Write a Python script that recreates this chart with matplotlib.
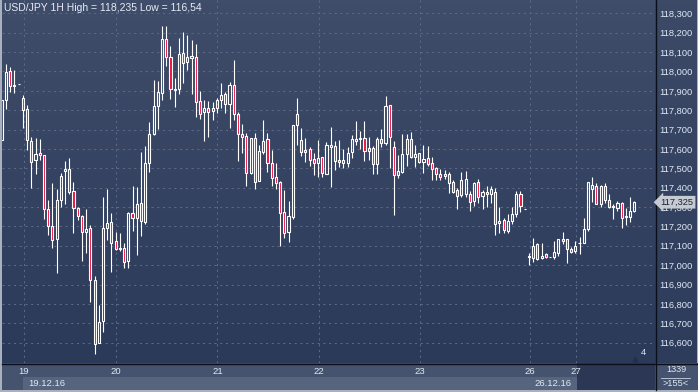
import numpy as np
import matplotlib
matplotlib.use("Agg")
import matplotlib.pyplot as plt
from matplotlib.patches import Rectangle

plt.rcParams['font.family'] = ['Liberation Sans', 'DejaVu Sans']

# ---------------- data (USD/JPY hourly candles) ----------------
opens = [117.646,
 117.852, 118.004, 117.923, 117.933, 117.861, 117.804, 117.642, 117.543, 117.577, 117.567,
 117.288, 117.202, 117.133, 117.336, 117.487, 117.494, 117.381, 117.293, 117.253, 117.172,
 117.190, 116.921, 116.596, 116.713, 117.190, 117.221, 117.124, 117.085, 117.090, 117.021,
 117.267, 117.246, 117.320, 117.224, 117.529, 117.677, 117.823, 117.890, 118.166, 118.074,
 117.902, 117.907, 118.093, 118.050, 118.071, 118.074, 117.847, 117.789, 117.814, 117.797,
 117.814, 117.852, 117.883, 117.832, 117.930, 117.778, 117.675, 117.668, 117.477, 117.654,
 117.436, 117.586, 117.651, 117.530, 117.453, 117.427, 117.272, 117.169, 117.250, 117.722,
 117.646, 117.594, 117.598, 117.546, 117.529, 117.556, 117.472, 117.611, 117.613, 117.543,
 117.541, 117.529, 117.582, 117.642, 117.649, 117.656, 117.589, 117.606, 117.524, 117.651,
 117.629, 117.825, 117.608, 117.463, 117.482, 117.573, 117.651, 117.560, 117.577, 117.534,
 117.555, 117.525, 117.500, 117.469, 117.458, 117.470, 117.431, 117.388, 117.362, 117.370,
 117.370, 117.333, 117.427, 117.358, 117.376, 117.365, 117.376, 117.219, 117.233, 117.176,
 117.229, 117.262, 117.370, 117.289, 117.040, 117.038, 117.107, 117.035, 117.057, 117.040,
 117.043, 117.064, 117.133, 117.133, 117.086, 117.074, 117.112, 117.112, 117.185, 117.391,
 117.410, 117.315, 117.408, 117.339, 117.298, 117.296, 117.319, 117.250, 117.250, 117.281]
highs = [117.852,
 118.038, 118.021, 118.007, 117.933, 117.878, 117.827, 117.660, 117.654, 117.651, 117.567,
 117.336, 117.422, 117.393, 117.474, 117.539, 117.551, 117.427, 117.302, 117.259, 117.289,
 117.207, 116.944, 116.794, 117.353, 117.391, 117.271, 117.172, 117.164, 117.112, 117.272,
 117.410, 117.405, 117.586, 117.616, 117.740, 117.956, 117.950, 118.235, 118.235, 118.131,
 117.964, 118.171, 118.202, 118.188, 118.162, 118.141, 117.899, 117.852, 117.847, 117.844,
 117.861, 117.938, 117.895, 117.947, 118.059, 117.792, 117.728, 117.680, 117.654, 117.680,
 117.620, 117.749, 117.680, 117.594, 117.525, 117.434, 117.388, 117.331, 117.723, 117.861,
 117.706, 117.658, 117.611, 117.577, 117.646, 117.560, 117.634, 117.711, 117.642, 117.646,
 117.598, 117.608, 117.670, 117.744, 117.692, 117.744, 117.660, 117.615, 117.660, 117.703,
 117.873, 117.825, 117.642, 117.568, 117.675, 117.675, 117.689, 117.620, 117.580, 117.620,
 117.615, 117.560, 117.508, 117.494, 117.491, 117.482, 117.439, 117.401, 117.482, 117.487,
 117.384, 117.431, 117.444, 117.388, 117.408, 117.408, 117.401, 117.298, 117.246, 117.262,
 117.298, 117.384, 117.384, 117.289, 117.061, 117.141, 117.112, 117.117, 117.064, 117.043,
 117.126, 117.133, 117.169, 117.133, 117.095, 117.126, 117.147, 117.246, 117.431, 117.456,
 117.422, 117.413, 117.425, 117.370, 117.314, 117.333, 117.324, 117.293, 117.350, 117.331]
lows = [117.646,
 117.804, 117.895, 117.890, 117.933, 117.706, 117.594, 117.401, 117.469, 117.543, 117.236,
 117.155, 117.090, 116.962, 117.302, 117.314, 117.370, 117.167, 117.233, 117.023, 117.064,
 116.811, 116.540, 116.596, 116.656, 117.129, 116.966, 117.078, 117.074, 116.983, 116.988,
 117.178, 117.052, 117.152, 117.212, 117.479, 117.672, 117.701, 117.852, 118.030, 117.857,
 117.818, 117.883, 117.938, 118.007, 117.883, 117.766, 117.754, 117.642, 117.660, 117.752,
 117.787, 117.814, 117.787, 117.709, 117.752, 117.539, 117.580, 117.410, 117.470, 117.391,
 117.436, 117.573, 117.482, 117.410, 117.391, 117.100, 117.138, 117.121, 117.238, 117.620,
 117.563, 117.534, 117.513, 117.465, 117.456, 117.456, 117.469, 117.405, 117.491, 117.505,
 117.503, 117.508, 117.551, 117.620, 117.598, 117.539, 117.543, 117.470, 117.470, 117.611,
 117.620, 117.500, 117.259, 117.448, 117.474, 117.512, 117.555, 117.505, 117.529, 117.474,
 117.512, 117.439, 117.439, 117.439, 117.446, 117.374, 117.374, 117.289, 117.350, 117.350,
 117.281, 117.305, 117.319, 117.288, 117.298, 117.319, 117.155, 117.167, 117.167, 117.167,
 117.212, 117.250, 117.272, 117.289, 117.002, 117.018, 117.026, 117.031, 117.035, 117.040,
 117.030, 117.047, 117.107, 117.012, 117.061, 117.064, 117.057, 117.112, 117.176, 117.324,
 117.314, 117.302, 117.319, 117.296, 117.238, 117.281, 117.193, 117.210, 117.224, 117.276]
closes = [117.852,
 117.999, 117.925, 117.930, 117.933, 117.801, 117.646, 117.534, 117.572, 117.567, 117.288,
 117.202, 117.129, 117.334, 117.460, 117.494, 117.376, 117.293, 117.253, 117.169, 117.186,
 116.923, 116.592, 116.708, 117.190, 117.216, 117.117, 117.085, 117.090, 117.018, 117.267,
 117.246, 117.315, 117.226, 117.525, 117.675, 117.821, 117.894, 118.166, 118.073, 117.909,
 117.907, 118.088, 118.045, 118.074, 118.080, 117.840, 117.783, 117.814, 117.792, 117.814,
 117.852, 117.878, 117.832, 117.930, 117.778, 117.675, 117.663, 117.474, 117.654, 117.431,
 117.589, 117.642, 117.530, 117.448, 117.422, 117.267, 117.164, 117.253, 117.722, 117.778,
 117.582, 117.586, 117.543, 117.525, 117.551, 117.474, 117.623, 117.623, 117.537, 117.534,
 117.525, 117.577, 117.651, 117.651, 117.654, 117.587, 117.603, 117.520, 117.651, 117.629,
 117.821, 117.663, 117.463, 117.486, 117.572, 117.653, 117.560, 117.572, 117.534, 117.548,
 117.520, 117.498, 117.470, 117.453, 117.470, 117.425, 117.379, 117.358, 117.439, 117.444,
 117.327, 117.425, 117.353, 117.376, 117.365, 117.391, 117.212, 117.228, 117.181, 117.229,
 117.262, 117.365, 117.305, 117.289, 117.049, 117.100, 117.030, 117.049, 117.043, 117.043,
 117.066, 117.133, 117.124, 117.081, 117.069, 117.100, 117.116, 117.185, 117.427, 117.413,
 117.314, 117.410, 117.339, 117.302, 117.305, 117.319, 117.246, 117.255, 117.281, 117.325]

day_labels = ["19", "20", "21", "22", "23", "26", "27"]
day_first_bar = [4, 26, 50, 74, 98, 124, 135]
week_labels = ["19.12.16", "26.12.16"]
week_first_bar = [4, 124]
price_ticks = [116.6, 116.7, 116.8, 116.9, 117.0, 117.1, 117.2, 117.3, 117.4,
               117.5, 117.6, 117.7, 117.8, 117.9, 118.0, 118.1, 118.2, 118.3]
title = "USD/JPY 1H High = 118,235 Low = 116,54"
last_price_label = "117,325"
bars_label = "1339"
zoom_label = ">155<"

# ---------------- figure ----------------
W, H = 698, 392
fig = plt.figure(figsize=(W / 100, H / 100), dpi=100)
fig.patch.set_facecolor('#a9b1bf')

bg = fig.add_axes([0, 0, 1, 1])
bg.set_xlim(0, W)
bg.set_ylim(H, 0)
bg.axis('off')

PLOT_L, PLOT_R, PLOT_B = 2, 655, 363

def grad(ax, x0, x1, y0, y1, c_top, c_bot, z=0):
    top = np.array(matplotlib.colors.to_rgb(c_top))
    bot = np.array(matplotlib.colors.to_rgb(c_bot))
    t = np.linspace(0, 1, 64)[:, None]
    img = (top[None, :] * (1 - t) + bot[None, :] * t)[:, None, :]
    ax.imshow(img, extent=[x0, x1, y1, y0], aspect='auto', zorder=z,
              interpolation='bilinear')

# right price panel
grad(bg, PLOT_R, W - 1, 0, PLOT_B, '#3c4a68', '#2e3c5b')
# bottom time panel
bg.add_patch(Rectangle((PLOT_L, PLOT_B), W - PLOT_L, 27, fc='#45536f', ec='none', zorder=1))
# week boxes
wk_px = [6 + 4.217 * b + 0.6 for b in week_first_bar]
bg.add_patch(Rectangle((wk_px[0], 377), wk_px[1] - wk_px[0], 13, fc='#56647e', ec='none', zorder=2))
bg.add_patch(Rectangle((wk_px[1], 377), 577 - wk_px[1], 13, fc='#56647e', ec='none', zorder=2))
bg.add_patch(Rectangle((577, PLOT_B), PLOT_R - 577, 27, fc='#2b3754', ec='none', zorder=2))
# separators
bg.plot([PLOT_R + 0.5, PLOT_R + 0.5], [0, 390], color='#0a0f1a', lw=1.0, zorder=5)
bg.plot([PLOT_L, W], [PLOT_B + 0.5, PLOT_B + 0.5], color='#0a0f1a', lw=1.0, zorder=5)
bg.plot([661, 690], [377.5, 377.5], color='#c8d2e2', lw=0.6, zorder=5)
bg.text(676, 370, bars_label, color='#dfe8f5', fontsize=6.6, ha='center', va='center', zorder=6)
bg.text(676, 383.5, zoom_label, color='#dfe8f5', fontsize=6.6, ha='center', va='center', zorder=6)
for lab, b in zip(week_labels, wk_px):
    bg.text(b + 5, 383.5, lab, color='#dfe8f5', fontsize=6.8, ha='left', va='center', zorder=6)

# ---------------- main candle axes ----------------
ax = fig.add_axes([PLOT_L / W, 1 - PLOT_B / H, (PLOT_R - PLOT_L) / W, PLOT_B / H])
ax.set_facecolor('none')
n = len(opens)
x = np.arange(n) - 1
o = np.array(opens); h = np.array(highs); l = np.array(lows); c = np.array(closes)
ax.set_xlim(-0.95, 153.9)
grad(ax, -0.95, 153.9, 118.369, 116.495, '#3f4d6a', '#2c3a5a', z=-10)
ax.set_xlim(-0.95, 153.9)
ax.set_ylim(116.495, 118.369)

top = np.maximum(o, c)
bot = np.minimum(o, c)
ax.vlines(x, top, h, color='white', lw=0.8, zorder=2)
ax.vlines(x, l, bot, color='white', lw=0.8, zorder=2)
fills = ['#e8103c' if cc < oo else 'none' for oo, cc in zip(o, c)]
ax.bar(x, top - bot, bottom=bot, width=0.5, color=fills, edgecolor='white',
       linewidth=0.8, zorder=3)

# grid
ax.set_yticks(price_ticks)
ax.set_yticklabels([f"{v:,.3f}".replace('.', ',') for v in price_ticks])
ax.set_xticks([b + 0.15 for b in day_first_bar])
ax.set_xticklabels(day_labels)
ax.grid(True, color='#5b6a8b', linestyle=(0, (2, 3.5)), linewidth=0.75, zorder=1)
ax.yaxis.tick_right()
ax.tick_params(axis='y', length=0, pad=3.2, labelsize=6.7, labelcolor='#dfe8f5')
ax.tick_params(axis='x', length=0, pad=3.0, labelsize=6.8, labelcolor='#dfe8f5')
for s in ax.spines.values():
    s.set_visible(False)

# last-price tag (covers the 117,300 label as in the original)
ax.annotate(last_price_label, xy=(1, closes[-1]), xycoords=('axes fraction', 'data'),
            xytext=(4, 0), textcoords='offset points', ha='left', va='center',
            fontsize=6.7, color='#1b2232', annotation_clip=False, zorder=10,
            bbox=dict(boxstyle='larrow,pad=0.2', fc='#c6cbd3', ec='none'))

# indicator label
ax.text(0.983, 0.016, "4", transform=ax.transAxes, color='#dfe8f5', fontsize=6.8,
        ha='center', va='bottom')
ax.plot([0.969], [0.012], transform=ax.transAxes, marker='^', ms=3.5, color='#22304a',
        clip_on=False)

# title
ax.text(0.003, 0.977, title, transform=ax.transAxes, color='#e6ecf5', fontsize=7.5,
        ha='left', va='center', zorder=10)

fig.savefig('out.png', dpi=100, facecolor=fig.get_facecolor())
